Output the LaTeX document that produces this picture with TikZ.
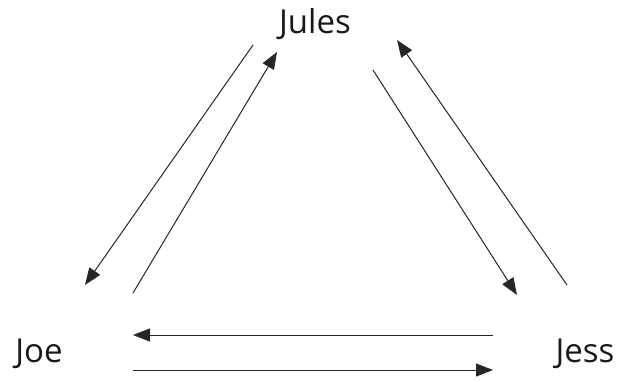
\documentclass[tikz,border=0pt]{standalone}
\usepackage{fontspec}
\setmainfont{Open Sans}
\usetikzlibrary{arrows.meta}
\begin{document}
\begin{tikzpicture}[x=1pt,y=-1pt,
  lbl/.style={font=\fontsize{33}{37}\selectfont, text=black!90, inner sep=0pt},
  link/.style={draw=black!85, line width=1pt, -{Triangle[length=17pt,width=13pt]}}]
\useasboundingbox (0,0) rectangle (619,381);
\node[lbl] (jules) at (315,24) {Jules};
\node[lbl] (joe) at (39,354) {Joe};
\node[lbl] (jess) at (585,354) {Jess};
\coordinate (a1s) at (253,45);  \coordinate (a1e) at (85,285);
\coordinate (a2s) at (133,293); \coordinate (a2e) at (277,52);
\coordinate (a3s) at (373,70);  \coordinate (a3e) at (517,295);
\coordinate (a4s) at (567,285); \coordinate (a4e) at (397,40);
\coordinate (a5s) at (493,335); \coordinate (a5e) at (133,335);
\coordinate (a6s) at (133,370); \coordinate (a6e) at (493,370);
\draw[link] (a1s) -- (a1e);
\draw[link] (a2s) -- (a2e);
\draw[link] (a3s) -- (a3e);
\draw[link] (a4s) -- (a4e);
\draw[link] (a5s) -- (a5e);
\draw[link] (a6s) -- (a6e);
\end{tikzpicture}
\end{document}
